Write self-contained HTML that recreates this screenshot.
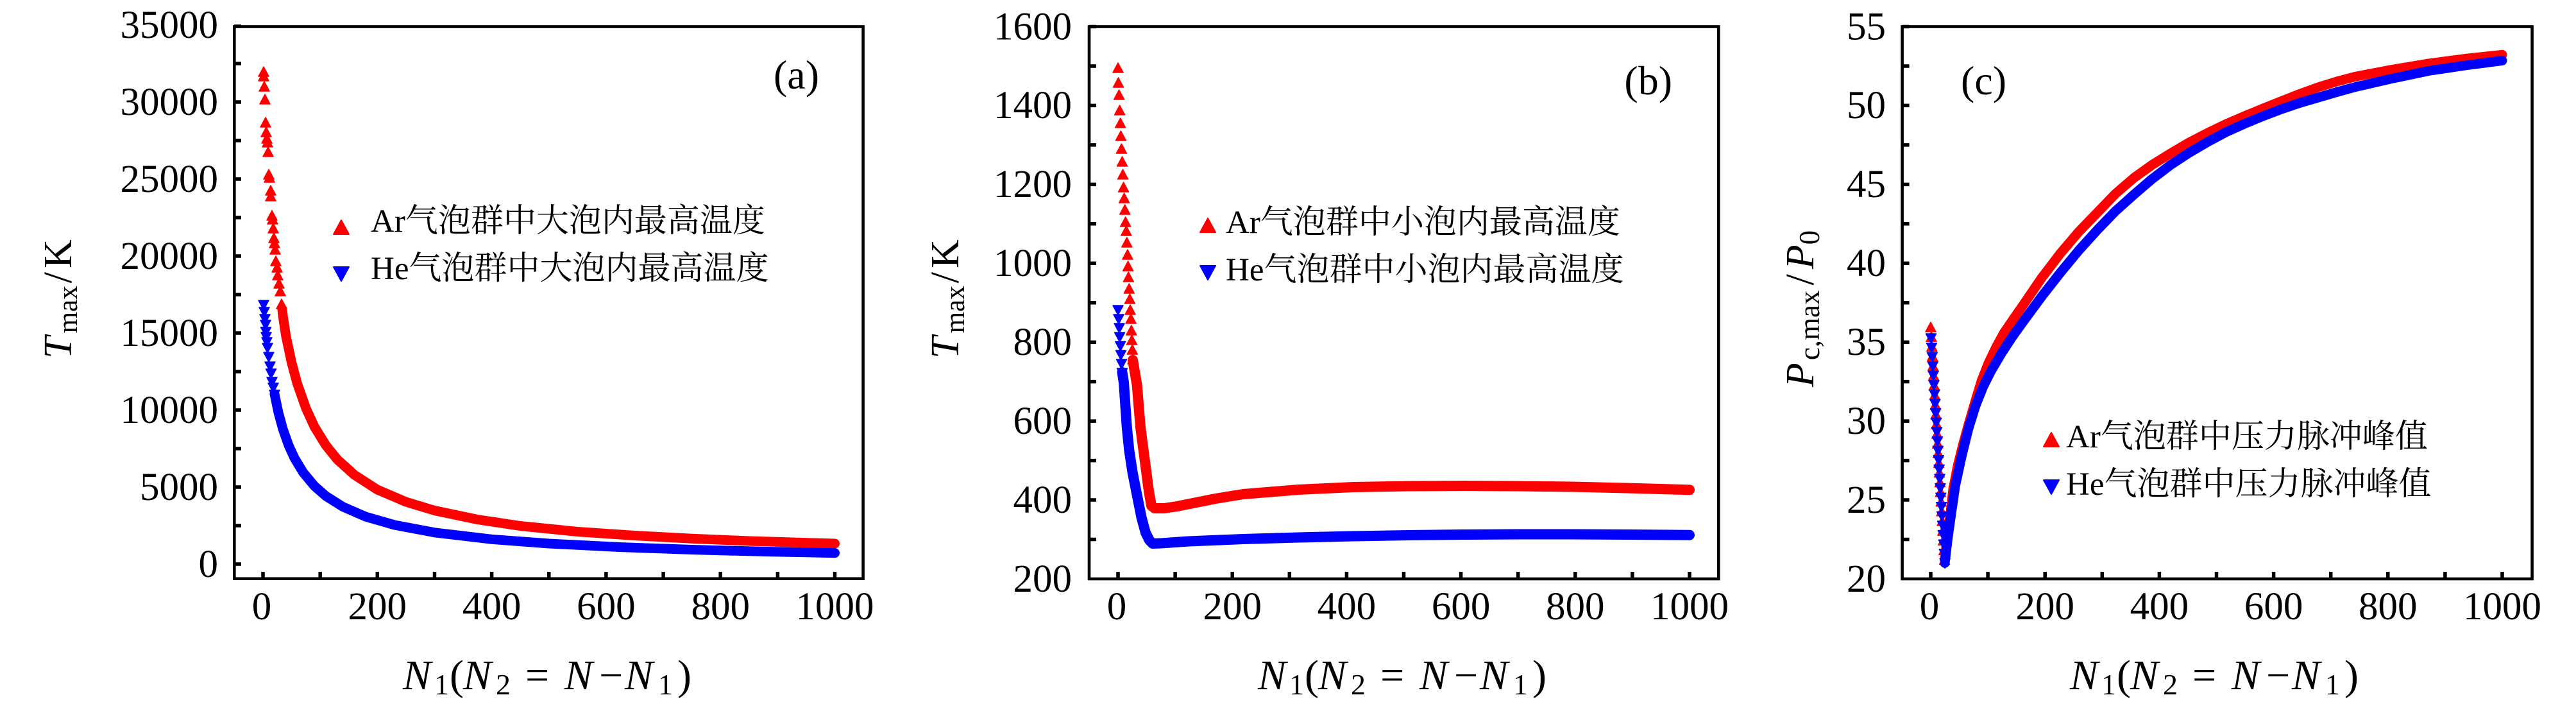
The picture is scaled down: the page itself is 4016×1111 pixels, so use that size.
<!DOCTYPE html>
<html><head><meta charset="utf-8"><style>
html,body{margin:0;padding:0;background:#fff;width:4016px;height:1111px;overflow:hidden}
svg{display:block}
.t{font-family:"Liberation Serif","DejaVu Serif",serif;font-size:61px;fill:#000}
.lg{font-family:"Liberation Serif","Noto Serif CJK SC","Noto Sans CJK SC",serif;font-size:51px;fill:#000}
.lb{font-family:"Liberation Serif","DejaVu Serif",serif;fill:#000}
</style></head><body>
<svg width="4016" height="1111" viewBox="0 0 4016 1111" xmlns="http://www.w3.org/2000/svg">
<rect width="4016" height="1111" fill="#fff"/>

<!-- ===== Panel (a) data ===== -->
<polyline fill="none" stroke="#f00" stroke-width="15" stroke-linejoin="round" stroke-linecap="round" points="440,482 441.2,493 445.7,523 454.6,565 463.5,598 476.9,636 490.2,665 508.1,694 525.9,716 552.6,740 588.3,763 632.9,782 677.5,795.5 744.3,809.5 811.2,819.5 900.3,828.5 989.5,834.5 1078.6,839.2 1167.8,843 1301.5,847"/>
<path fill="#f00" stroke="#f00" stroke-width="1.5" stroke-linejoin="round" d="M411 104l8 15h-16z M411 111l8 15h-16z M412 127l8 15h-16z M413 147l8 15h-16z M414 183l8 15h-16z M415 198l8 15h-16z M416 208l8 15h-16z M417 214l8 15h-16z M418 229l8 15h-16z M419 264l8 15h-16z M420 269l8 15h-16z M422 289l8 15h-16z M422 298l8 15h-16z M424 328l8 15h-16z M425 334l8 15h-16z M426 348l8 15h-16z M427 363l8 15h-16z M428 371l8 15h-16z M429 381l8 15h-16z M430 399l8 15h-16z M432 409l8 15h-16z M433 421l8 15h-16z M435 434l8 15h-16z M437 446l8 15h-16z M439 466l8 15h-16z"/>
<polyline fill="none" stroke="#00f" stroke-width="15" stroke-linejoin="round" stroke-linecap="round" points="428,614 434.1,643.2 441.2,669.1 450.1,694.2 459,713.6 472.4,735.9 490.2,757.3 508.1,773 534.8,789.8 570.5,805.2 615,818 677.5,829.8 766.6,840.3 855.8,847 962.7,852.4 1078.6,856.5 1194.5,859.5 1301.5,861.6"/>
<path fill="#00f" stroke="#00f" stroke-width="1.5" stroke-linejoin="round" d="M411 483l8 -15h-16z M412 494l8 -15h-16z M413 505l8 -15h-16z M414 514l8 -15h-16z M414.5 525l8 -15h-16z M415 533l8 -15h-16z M416 541l8 -15h-16z M417 550l8 -15h-16z M419 564l8 -15h-16z M421 579l8 -15h-16z M422.5 590l8 -15h-16z M424 603l8 -15h-16z M426 612l8 -15h-16z M428 623l8 -15h-16z"/>

<!-- ===== Panel (b) data ===== -->
<polyline fill="none" stroke="#f00" stroke-width="16" stroke-linejoin="round" stroke-linecap="round" points="1766,561 1772.6,600 1778,666 1785,719 1791,765 1795,788 1800,792 1815,792 1835,789 1860,784 1895,777 1938,770 2024,763 2109,759 2195,757.5 2280,757 2366,757.5 2451,758.5 2537,760.5 2634,763.3"/>
<path fill="#f00" stroke="#f00" stroke-width="1.5" stroke-linejoin="round" d="M1743 98l8 15h-16z M1743.5 121l8 15h-16z M1744.6 140l8 15h-16z M1745.6 164l8 15h-16z M1746.7 184l8 15h-16z M1747.4 204l8 15h-16z M1748.4 224l8 15h-16z M1749.5 244l8 15h-16z M1750.5 264l8 15h-16z M1751.6 284l8 15h-16z M1752.6 301l8 15h-16z M1753.7 319l8 15h-16z M1754.7 338l8 15h-16z M1755.8 352l8 15h-16z M1756.8 370l8 15h-16z M1757.9 389l8 15h-16z M1758.6 407l8 15h-16z M1759.3 424l8 15h-16z M1760.3 442l8 15h-16z M1761.4 458l8 15h-16z M1762.1 475l8 15h-16z M1763.1 489l8 15h-16z M1763.8 507l8 15h-16z M1764.5 522l8 15h-16z M1765.3 537l8 15h-16z M1766 552l8 15h-16z"/>
<polyline fill="none" stroke="#00f" stroke-width="16" stroke-linejoin="round" stroke-linecap="round" points="1749.5,580 1752,596 1754.4,631 1756.8,666 1760.3,701 1765.6,736 1772.6,771.5 1779.6,806.5 1786,830 1792,842 1797,847 1810,846.5 1853,843.5 1938,840 2024,837.5 2109,835.5 2195,834 2280,833 2366,832.5 2451,832.5 2537,833 2634,833.7"/>
<path fill="#00f" stroke="#00f" stroke-width="1.5" stroke-linejoin="round" d="M1743 491l8 -15h-16z M1744 505l8 -15h-16z M1745 519l8 -15h-16z M1745.6 533l8 -15h-16z M1746.7 547l8 -15h-16z M1747.5 561l8 -15h-16z M1748.5 575l8 -15h-16z M1749.5 589l8 -15h-16z"/>

<!-- ===== Panel (c) data ===== -->
<path fill="#f00" stroke="#f00" stroke-width="1.5" stroke-linejoin="round" d="M3010 502l8 15h-16z M3010.9 517.1l8 15h-16z M3011.8 532.2l8 15h-16z M3012.7 547.3l8 15h-16z M3013.6 562.4l8 15h-16z M3014.5 577.5l8 15h-16z M3015.4 592.6l8 15h-16z M3016.3 607.7l8 15h-16z M3017.2 622.8l8 15h-16z M3018.1 637.9l8 15h-16z M3019 653l8 15h-16z M3019.9 668.1l8 15h-16z M3020.8 683.2l8 15h-16z M3021.7 698.3l8 15h-16z M3022.6 713.4l8 15h-16z M3023.5 728.5l8 15h-16z M3024.4 743.6l8 15h-16z M3025.3 758.7l8 15h-16z M3026.2 773.8l8 15h-16z M3027.1 788.9l8 15h-16z M3028 804l8 15h-16z M3028.9 819.1l8 15h-16z M3029.8 834.2l8 15h-16z M3030.7 849.3l8 15h-16z M3031.6 864.4l8 15h-16z"/>
<polyline fill="none" stroke="#f00" stroke-width="15" stroke-linejoin="round" stroke-linecap="round" points="3031.6,873 3036.7,830.7 3041.2,796.2 3045,762 3052,726 3060,694 3068.8,662 3079,627 3089,594 3100,566 3112,541 3124,519 3139,497 3155,474 3183,433 3212,395 3241,361 3270,331 3298,302 3327,277 3355,257 3384,239 3413,222 3442,207 3470,193.5 3499,181 3528,169 3557,157.5 3585,146.5 3614,136 3643,127 3671.5,119.5 3729,108.5 3786,99 3843,91.5 3901,85.3"/>
<path fill="#00f" stroke="#00f" stroke-width="1.5" stroke-linejoin="round" d="M3010.5 535l8 -15h-16z M3011.4 549.6l8 -15h-16z M3012.3 564.2l8 -15h-16z M3013.2 578.8l8 -15h-16z M3014.1 593.4l8 -15h-16z M3015 608l8 -15h-16z M3015.9 622.6l8 -15h-16z M3016.8 637.2l8 -15h-16z M3017.7 651.8l8 -15h-16z M3018.6 666.4l8 -15h-16z M3019.5 681l8 -15h-16z M3020.4 695.6l8 -15h-16z M3021.3 710.2l8 -15h-16z M3022.2 724.8l8 -15h-16z M3023.1 739.4l8 -15h-16z M3024 754l8 -15h-16z M3024.9 768.6l8 -15h-16z M3025.8 783.2l8 -15h-16z M3026.7 797.8l8 -15h-16z M3027.6 812.4l8 -15h-16z M3028.5 827l8 -15h-16z M3029.4 841.6l8 -15h-16z M3030.3 856.2l8 -15h-16z M3031.2 870.8l8 -15h-16z M3032.1 885.4l8 -15h-16z"/>
<polyline fill="none" stroke="#00f" stroke-width="15" stroke-linejoin="round" stroke-linecap="round" points="3032,877.4 3036.7,838 3041.2,806.1 3048.3,756.9 3059,707.7 3068.8,668 3080,632 3092,602 3103,580 3120,551 3137,525 3155,500 3183,462 3212,425 3241,390 3270,358 3298,329 3327,303 3355,279 3384,257 3413,238 3442,221 3470,206 3499,193 3528,181 3557,170 3585,160.5 3614,152 3643,143.5 3671.5,135.7 3729,122.5 3786,110.5 3843,102 3901,94.4"/>

<!-- ===== Boxes ===== -->
<g fill="none" stroke="#000" stroke-width="4.6">
<rect x="365.3" y="41.5" width="980.3" height="860.2"/>
<rect x="1698" y="41.5" width="981.3" height="860.5"/>
<rect x="2965.6" y="41.5" width="982" height="860.5"/>
</g>

<!-- ===== Ticks ===== -->
<path fill="none" stroke="#000" stroke-width="5.5" d="
M365 879h11M365 819h11M365 759h11M365 699h11M365 639h11M365 579h11M365 519h11M365 459h11M365 399h11M365 339h11M365 279h11M365 219h11M365 159h11M365 99h11M365 41h11
M410 902v-11M499.2 902v-11M588.3 902v-11M677.5 902v-11M766.6 902v-11M855.8 902v-11M944.9 902v-11M1034.1 902v-11M1123.2 902v-11M1212.4 902v-11M1301.5 902v-11
M1698 41.5h11M1698 103h11M1698 164.4h11M1698 225.9h11M1698 287.4h11M1698 348.8h11M1698 410.3h11M1698 471.7h11M1698 533.2h11M1698 594.6h11M1698 656.1h11M1698 717.6h11M1698 779h11M1698 840.5h11
M1743 902v-11M1832.1 902v-11M1921.2 902v-11M2010.3 902v-11M2099.4 902v-11M2188.5 902v-11M2277.6 902v-11M2366.7 902v-11M2455.8 902v-11M2544.9 902v-11M2634 902v-11
M2965.6 41.5h11M2965.6 103h11M2965.6 164.4h11M2965.6 225.9h11M2965.6 287.4h11M2965.6 348.8h11M2965.6 410.3h11M2965.6 471.7h11M2965.6 533.2h11M2965.6 594.6h11M2965.6 656.1h11M2965.6 717.6h11M2965.6 779h11M2965.6 840.5h11
M3010 902v-11M3099.1 902v-11M3188.2 902v-11M3277.3 902v-11M3366.4 902v-11M3455.5 902v-11M3544.6 902v-11M3633.7 902v-11M3722.8 902v-11M3811.9 902v-11M3901 902v-11"/>

<!-- ===== Y tick labels ===== -->
<g class="t" text-anchor="end">
<text x="340" y="899">0</text><text x="340" y="779">5000</text><text x="340" y="659">10000</text><text x="340" y="539">15000</text><text x="340" y="419">20000</text><text x="340" y="299">25000</text><text x="340" y="179">30000</text><text x="340" y="59">35000</text>
<text x="1671" y="922">200</text><text x="1671" y="799">400</text><text x="1671" y="676">600</text><text x="1671" y="553">800</text><text x="1671" y="430">1000</text><text x="1671" y="307">1200</text><text x="1671" y="184">1400</text><text x="1671" y="61.5">1600</text>
<text x="2940" y="922">20</text><text x="2940" y="799">25</text><text x="2940" y="676">30</text><text x="2940" y="553">35</text><text x="2940" y="430">40</text><text x="2940" y="307">45</text><text x="2940" y="184">50</text><text x="2940" y="61.5">55</text>
</g>

<!-- ===== X tick labels ===== -->
<g class="t" text-anchor="middle">
<text x="408" y="965">0</text><text x="588.3" y="965">200</text><text x="766.6" y="965">400</text><text x="944.9" y="965">600</text><text x="1123.2" y="965">800</text><text x="1301.5" y="965">1000</text>
<text x="1741" y="965">0</text><text x="1921.2" y="965">200</text><text x="2099.4" y="965">400</text><text x="2277.6" y="965">600</text><text x="2455.8" y="965">800</text><text x="2634" y="965">1000</text>
<text x="3008" y="965">0</text><text x="3188.2" y="965">200</text><text x="3366.4" y="965">400</text><text x="3544.6" y="965">600</text><text x="3722.8" y="965">800</text><text x="3901" y="965">1000</text>
</g>

<!-- ===== Y axis labels ===== -->
<text class="lb" font-size="62" text-anchor="middle" transform="translate(111 466) rotate(-90)"><tspan font-style="italic">T</tspan><tspan font-size="43" dx="5" dy="9">max</tspan><tspan dx="4" dy="-9">/</tspan><tspan dx="6">K</tspan></text>
<text class="lb" font-size="62" text-anchor="middle" transform="translate(1494 466) rotate(-90)"><tspan font-style="italic">T</tspan><tspan font-size="43" dx="5" dy="9">max</tspan><tspan dx="4" dy="-9">/</tspan><tspan dx="6">K</tspan></text>
<text class="lb" font-size="62" text-anchor="middle" transform="translate(2827 481) rotate(-90)"><tspan font-style="italic">P</tspan><tspan font-size="45" dx="4" dy="9">c,max</tspan><tspan dx="8" dy="-9">/</tspan><tspan dx="8" font-style="italic">P</tspan><tspan font-size="45" dy="9">0</tspan></text>

<!-- ===== X axis labels ===== -->
<g>
<text class="lb" font-size="66" y="1074"><tspan x="628" font-style="italic">N</tspan><tspan x="677" y="1082" font-size="46">1</tspan><tspan x="701" y="1074">(</tspan><tspan x="722" font-style="italic">N</tspan><tspan x="773" y="1082" font-size="46">2</tspan><tspan x="819" y="1074">=</tspan><tspan x="880" font-style="italic">N</tspan><tspan x="934">−</tspan><tspan x="974" font-style="italic">N</tspan><tspan x="1026" y="1082" font-size="46">1</tspan><tspan x="1056" y="1074">)</tspan></text>
</g>
<g transform="translate(1333 0)">
<text class="lb" font-size="66" y="1074"><tspan x="628" font-style="italic">N</tspan><tspan x="677" y="1082" font-size="46">1</tspan><tspan x="701" y="1074">(</tspan><tspan x="722" font-style="italic">N</tspan><tspan x="773" y="1082" font-size="46">2</tspan><tspan x="819" y="1074">=</tspan><tspan x="880" font-style="italic">N</tspan><tspan x="934">−</tspan><tspan x="974" font-style="italic">N</tspan><tspan x="1026" y="1082" font-size="46">1</tspan><tspan x="1056" y="1074">)</tspan></text>
</g>
<g transform="translate(2599 0)">
<text class="lb" font-size="66" y="1074"><tspan x="628" font-style="italic">N</tspan><tspan x="677" y="1082" font-size="46">1</tspan><tspan x="701" y="1074">(</tspan><tspan x="722" font-style="italic">N</tspan><tspan x="773" y="1082" font-size="46">2</tspan><tspan x="819" y="1074">=</tspan><tspan x="880" font-style="italic">N</tspan><tspan x="934">−</tspan><tspan x="974" font-style="italic">N</tspan><tspan x="1026" y="1082" font-size="46">1</tspan><tspan x="1056" y="1074">)</tspan></text>
</g>

<!-- ===== Panel letters ===== -->
<text class="lb" font-size="64" x="1277" y="138" text-anchor="end">(a)</text>
<text class="lb" font-size="64" x="2607" y="147" text-anchor="end">(b)</text>
<text class="lb" font-size="64" x="3057" y="147">(c)</text>

<!-- ===== Legends ===== -->
<g stroke-width="2" stroke-linejoin="round">
<path fill="#f00" stroke="#f00" d="M532 343l12 22h-24z"/>
<path fill="#00f" stroke="#00f" d="M532 438l12 -22h-24z"/>
<path fill="#f00" stroke="#f00" d="M1883 340l12 22h-24z"/>
<path fill="#00f" stroke="#00f" d="M1883 436l12 -22h-24z"/>
<path fill="#f00" stroke="#f00" d="M3198 674l12 22h-24z"/>
<path fill="#00f" stroke="#00f" d="M3198 770l12 -22h-24z"/>
</g>
<text class="lg" x="578" y="361">Ar气泡群中大泡内最高温度</text>
<text class="lg" x="578" y="435">He气泡群中大泡内最高温度</text>
<text class="lg" x="1911" y="363">Ar气泡群中小泡内最高温度</text>
<text class="lg" x="1911" y="437">He气泡群中小泡内最高温度</text>
<text class="lg" x="3221" y="697">Ar气泡群中压力脉冲峰值</text>
<text class="lg" x="3221" y="771">He气泡群中压力脉冲峰值</text>
</svg>
</body></html>
